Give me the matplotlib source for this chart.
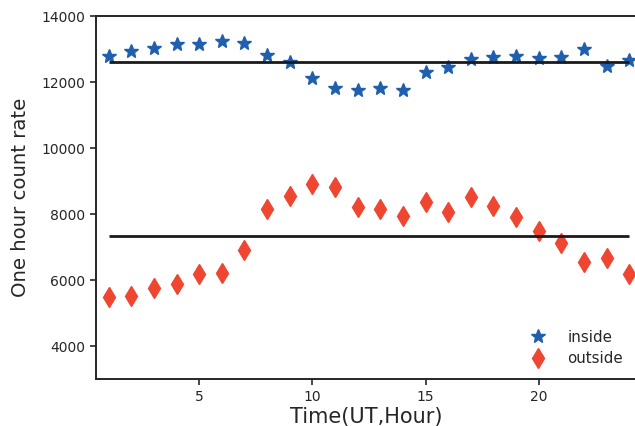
import matplotlib
matplotlib.use("Agg")
import matplotlib.pyplot as plt
import numpy as np

hours = list(range(1, 25))
inside = [12800, 12950, 13040, 13140, 13140, 13250, 13180, 12810, 12600, 12130,
          11820, 11750, 11830, 11770, 12290, 12460, 12690, 12760, 12790, 12720,
          12760, 13000, 12480, 12660]
outside = [5495, 5515, 5750, 5890, 6190, 6210, 6920, 8140, 8545, 8910,
           8820, 8200, 8150, 7930, 8365, 8060, 8515, 8250, 7910, 7485,
           7130, 6555, 6675, 6190]

text_color = "#262626"
plt.rcParams["font.family"] = "DejaVu Sans"
plt.rcParams["text.color"] = text_color
plt.rcParams["axes.labelcolor"] = text_color
plt.rcParams["xtick.color"] = text_color
plt.rcParams["ytick.color"] = text_color

fig = plt.figure(figsize=(6.35, 4.26), dpi=100)
ax = fig.add_axes([96 / 635, 1 - 379 / 426, 540 / 635, 363 / 426])

ax.plot(hours, inside, linestyle="none", marker="*", ms=10.5,
        color="#1f5fad", label="inside")
ax.plot(hours, outside, linestyle="none", marker="d", ms=10.2,
        color="#ee4631", label="outside")

# average level of each series
ax.hlines(np.mean(inside), hours[0], hours[-1], colors="#1a1a1a", lw=2)
ax.hlines(np.mean(outside), hours[0], hours[-1], colors="#1a1a1a", lw=2)

ax.set_xlim(0.44, 24.3)
ax.set_ylim(3000, 14000)
ax.set_xticks([5, 10, 15, 20])
ax.set_yticks([4000, 6000, 8000, 10000, 12000, 14000])

for side in ["left", "bottom", "top"]:
    ax.spines[side].set_linewidth(1.4)
    ax.spines[side].set_color(text_color)
ax.spines["right"].set_visible(False)

ax.tick_params(axis="both", direction="out", length=4, width=1.2,
               labelsize=10, pad=4)

ax.set_xlabel("Time(UT,Hour)", fontsize=15, labelpad=2)
ax.set_ylabel("One hour count rate", fontsize=14.2, labelpad=8)

ax.legend(loc="lower right", frameon=False, fontsize=10.8,
          borderaxespad=0.35, handletextpad=1.0, labelspacing=0.45,
          borderpad=0.5)

fig.savefig("out.png", dpi=100)
